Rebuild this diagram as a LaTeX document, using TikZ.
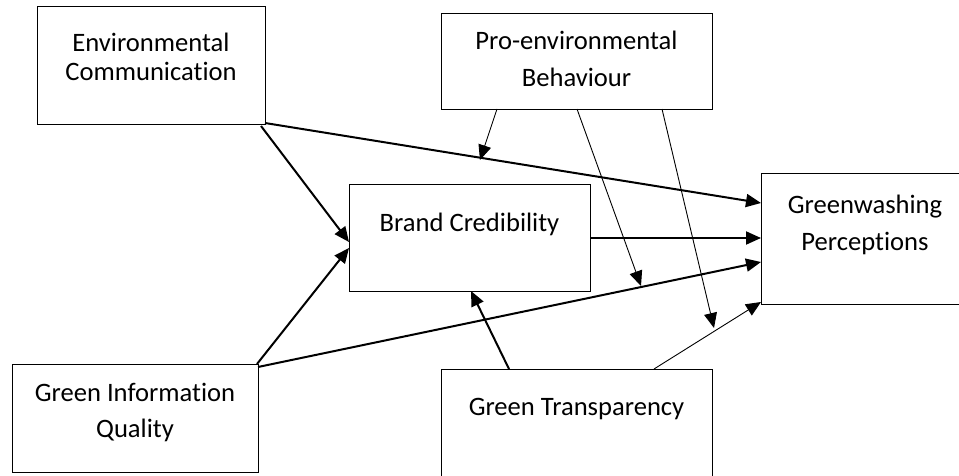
\documentclass[tikz,border=0pt]{standalone}
\usepackage{fontspec}
\setmainfont[Ligatures=NoCommon]{Carlito}
\usetikzlibrary{arrows.meta}
\begin{document}
\begin{tikzpicture}[x=1pt,y=-1pt,
  box/.style={draw=black, line width=0.9pt, inner sep=0pt},
  txt/.style={inner sep=0pt, anchor=base, font=\fontsize{26.6}{37}\selectfont},
  boldarrow/.style={line width=2pt, -{Triangle[length=15pt,width=13pt]}},
  thinarrow/.style={line width=0.9pt, -{Triangle[length=15pt,width=13pt]}}]
\useasboundingbox (0,0) rectangle (959,476);
\clip (0,0) rectangle (959,476);
% boxes
\node[box, minimum width=228pt, minimum height=118pt] (ec) at (151,65) {};
\node[box, minimum width=271pt, minimum height=96pt] (peb) at (576.5,61) {};
\node[box, minimum width=241pt, minimum height=107pt] (bc) at (469.5,237.5) {};
\node[box, minimum width=208pt, minimum height=131pt] (gp) at (865,238.5) {};
\node[box, minimum width=246pt, minimum height=108pt] (giq) at (135,418) {};
\node[box, minimum width=271pt, minimum height=110pt] (gt) at (576.5,424) {};
% texts
\node[txt] (ec1) at (151,52) {Environmental};
\node[txt] (ec2) at (151,81) {Communication};
\node[txt] (peb1) at (576.5,50) {Pro-environmental};
\node[txt] (peb2) at (576.5,87) {Behaviour};
\node[txt] (bc1) at (469.5,231) {Brand Credibility};
\node[txt] (gp1) at (865,214) {Greenwashing};
\node[txt] (gp2) at (865,251) {Perceptions};
\node[txt] (giq1) at (135,401) {Green Information};
\node[txt] (giq2) at (135,437) {Quality};
\node[txt] (gt1) at (576.5,415) {Green Transparency};
% connector end points
\coordinate (ec-a) at (265,123);
\coordinate (ec-b) at (261,126);
\coordinate (gp-a) at (761,203);
\coordinate (gp-b) at (761,238);
\coordinate (gp-c) at (761,262);
\coordinate (gp-d) at (761,302);
\coordinate (bc-a) at (349,242);
\coordinate (bc-b) at (590,238);
\coordinate (bc-c) at (349,248);
\coordinate (bc-d) at (471,291);
\coordinate (peb-a) at (497,109);
\coordinate (peb-b) at (577,109);
\coordinate (peb-c) at (662,109);
\coordinate (giq-a) at (257,364);
\coordinate (giq-b) at (258,367);
\coordinate (gt-a) at (509,369);
\coordinate (gt-b) at (654,369);
\coordinate (m1) at (480,160);
\coordinate (m2) at (641,286);
\coordinate (m3) at (714,328);
% connectors
\draw[boldarrow] (ec-a) -- (gp-a);
\draw[boldarrow] (ec-b) -- (bc-a);
\draw[boldarrow] (bc-b) -- (gp-b);
\draw[boldarrow] (giq-a) -- (bc-c);
\draw[boldarrow] (giq-b) -- (gp-c);
\draw[boldarrow] (gt-a) -- (bc-d);
\draw[thinarrow] (gt-b) -- (gp-d);
\draw[thinarrow] (peb-a) -- (m1);
\draw[thinarrow] (peb-b) -- (m2);
\draw[thinarrow] (peb-c) -- (m3);
\end{tikzpicture}
\end{document}
